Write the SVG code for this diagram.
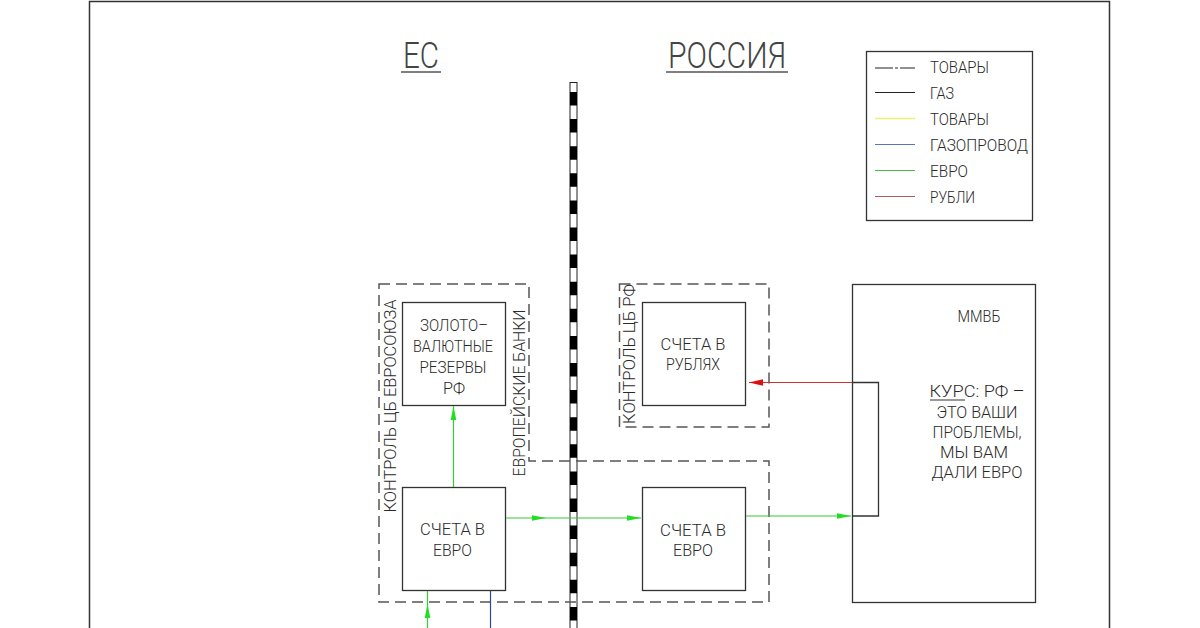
<svg xmlns="http://www.w3.org/2000/svg" width="1200" height="628" viewBox="0 0 1200 628">
<style>
text{font-family:Roboto,"Liberation Sans",Arial,sans-serif;font-weight:300;font-size:16px;fill:#2a2a2a;}
.c{text-anchor:middle;}
.box{fill:none;stroke:#333;stroke-width:1.3;}
.dash{fill:none;stroke:#555;stroke-width:1.5;stroke-dasharray:11 6;}
.g{stroke:#33cc33;stroke-width:1.2;fill:none;}
.r{stroke:#cc3333;stroke-width:1.2;fill:none;}
.k{stroke:#333;stroke-width:1.3;fill:none;}
.t{font-size:36px;fill:#444;}
</style>
<defs>
<marker id="ag" markerUnits="userSpaceOnUse" markerWidth="16" markerHeight="8" refX="14" refY="4" orient="auto"><path d="M0,1.2 L14,4 L0,6.8 z" fill="#22dd22"/></marker>
<marker id="ar" markerUnits="userSpaceOnUse" markerWidth="16" markerHeight="8" refX="14" refY="4" orient="auto"><path d="M0,0.8 L14,4 L0,7.2 z" fill="#dd1111"/></marker>
</defs>
<rect width="1200" height="628" fill="#fff"/>
<path d="M89.5,628 V1.5 H1109.5 V628" fill="none" stroke="#333" stroke-width="1.5"/>
<g id="titles">
<text class="t" x="421" y="68" text-anchor="middle" textLength="36" lengthAdjust="spacingAndGlyphs">ЕС</text>
<line x1="401" y1="72" x2="441" y2="72" stroke="#555" stroke-width="1.5"/>
<text class="t" x="727" y="68" text-anchor="middle" textLength="118" lengthAdjust="spacingAndGlyphs">РОССИЯ</text>
<line x1="666" y1="72" x2="788" y2="72" stroke="#555" stroke-width="1.5"/>
</g>
<g id="border">
<rect x="570" y="82.5" width="7" height="546" fill="#fff" stroke="#222" stroke-width="1"/>
<line x1="573.5" y1="92" x2="573.5" y2="628" stroke="#000" stroke-width="7" stroke-dasharray="13.5 13.6"/>
</g>
<g id="legend">
<rect x="866.5" y="51.5" width="166" height="169" class="box"/>
<path d="M875,68 H893 M895,68 H898 M900,68 H915" stroke="#222" stroke-width="1.2"/>
<line x1="875" y1="92.5" x2="915" y2="92.5" stroke="#222" stroke-width="1.2"/>
<line x1="875" y1="118.5" x2="915" y2="118.5" stroke="#eeee77" stroke-width="1.5"/>
<line x1="875" y1="144.5" x2="915" y2="144.5" stroke="#5577bb" stroke-width="1.2"/>
<line x1="875" y1="170.5" x2="915" y2="170.5" stroke="#44bb44" stroke-width="1.2"/>
<line x1="875" y1="196.5" x2="915" y2="196.5" stroke="#b05a5a" stroke-width="1.2"/>
<text x="930" y="73" textLength="59" lengthAdjust="spacingAndGlyphs">ТОВАРЫ</text>
<text x="930" y="99" textLength="24" lengthAdjust="spacingAndGlyphs">ГАЗ</text>
<text x="930" y="125" textLength="59" lengthAdjust="spacingAndGlyphs">ТОВАРЫ</text>
<text x="930" y="151" textLength="98" lengthAdjust="spacingAndGlyphs">ГАЗОПРОВОД</text>
<text x="930" y="177" textLength="38" lengthAdjust="spacingAndGlyphs">ЕВРО</text>
<text x="930" y="203" textLength="45" lengthAdjust="spacingAndGlyphs">РУБЛИ</text>
</g>
<g id="eu-zone">
<path class="dash" d="M379,284 H529 V461 H769 V602 H379 Z"/>
<text transform="translate(396,406) rotate(-90)" class="c" textLength="213" lengthAdjust="spacingAndGlyphs">КОНТРОЛЬ ЦБ ЕВРОСОЮЗА</text>
<text transform="translate(525,393) rotate(-90)" class="c" textLength="167" lengthAdjust="spacingAndGlyphs">ЕВРОПЕЙСКИЕ БАНКИ</text>
</g>
<g id="ru-zone">
<rect class="dash" x="619.5" y="284" width="149.5" height="143"/>
<text transform="translate(635,354) rotate(-90)" class="c" textLength="140" lengthAdjust="spacingAndGlyphs">КОНТРОЛЬ ЦБ РФ</text>
</g>
<g id="reserves">
<rect class="box" x="402.5" y="302.5" width="103" height="103"/>
<text class="c" x="454" y="331" textLength="68" lengthAdjust="spacingAndGlyphs">ЗОЛОТО–</text>
<text class="c" x="453" y="352" textLength="80" lengthAdjust="spacingAndGlyphs">ВАЛЮТНЫЕ</text>
<text class="c" x="453" y="373" textLength="67" lengthAdjust="spacingAndGlyphs">РЕЗЕРВЫ</text>
<text class="c" x="454" y="394" textLength="22" lengthAdjust="spacingAndGlyphs">РФ</text>
</g>
<g id="eu-euro">
<rect class="box" x="402.5" y="487.5" width="103" height="103"/>
<text class="c" x="452.5" y="535" textLength="65" lengthAdjust="spacingAndGlyphs">СЧЕТА В</text>
<text class="c" x="452.5" y="556" textLength="39" lengthAdjust="spacingAndGlyphs">ЕВРО</text>
</g>
<g id="ru-rub">
<rect class="box" x="642.5" y="302.5" width="103" height="103"/>
<text class="c" x="693" y="350" textLength="65" lengthAdjust="spacingAndGlyphs">СЧЕТА В</text>
<text class="c" x="693" y="370" textLength="54" lengthAdjust="spacingAndGlyphs">РУБЛЯХ</text>
</g>
<g id="ru-euro">
<rect class="box" x="642.5" y="487.5" width="103" height="103"/>
<text class="c" x="693" y="536" textLength="66" lengthAdjust="spacingAndGlyphs">СЧЕТА В</text>
<text class="c" x="693" y="556" textLength="40" lengthAdjust="spacingAndGlyphs">ЕВРО</text>
</g>
<g id="mmvb">
<rect class="box" x="852.5" y="284.5" width="183" height="318"/>
<text class="c" x="979" y="322" textLength="43" lengthAdjust="spacingAndGlyphs">ММВБ</text>
<text class="c" x="977" y="397" textLength="95" lengthAdjust="spacingAndGlyphs">КУРС: РФ –</text>
<line x1="930" y1="400" x2="965" y2="400" stroke="#333" stroke-width="1"/>
<text class="c" x="977" y="418" textLength="81" lengthAdjust="spacingAndGlyphs">ЭТО ВАШИ</text>
<text class="c" x="977" y="438" textLength="89" lengthAdjust="spacingAndGlyphs">ПРОБЛЕМЫ,</text>
<text class="c" x="974" y="458" textLength="68" lengthAdjust="spacingAndGlyphs">МЫ ВАМ</text>
<text class="c" x="977" y="478" textLength="91" lengthAdjust="spacingAndGlyphs">ДАЛИ ЕВРО</text>
</g>
<g id="connectors">
<line class="g" x1="453.5" y1="487" x2="453.5" y2="406" marker-end="url(#ag)"/>
<line class="g" x1="506" y1="518" x2="546" y2="518" marker-end="url(#ag)"/>
<line class="g" x1="546" y1="518" x2="641" y2="518" marker-end="url(#ag)"/>
<line class="g" x1="746" y1="516" x2="851" y2="516" marker-end="url(#ag)"/>
<line class="g" x1="427.5" y1="628" x2="427.5" y2="604" marker-end="url(#ag)"/>
<line class="g" x1="427.5" y1="604" x2="427.5" y2="591"/>
<line x1="490.5" y1="591" x2="490.5" y2="628" stroke="#334499" stroke-width="1.2"/>
<line class="r" x1="852" y1="382.5" x2="749" y2="382.5" marker-end="url(#ar)"/>
<path class="k" d="M852,382.5 H878.5 V516 H852"/>
</g>
</svg>
